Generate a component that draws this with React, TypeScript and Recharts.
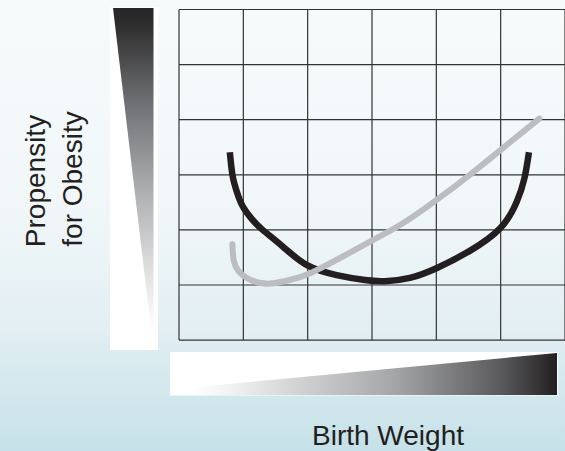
import React from 'react';
import { LineChart, Line, XAxis, YAxis, CartesianGrid } from 'recharts';

const gridTicks = [0, 1, 2, 3, 4, 5, 6];

// U-shaped (black) curve
const uShapeX = [0.79, 0.81, 0.84, 0.9, 0.99, 1.13, 1.3, 1.62, 1.99, 2.45, 2.89, 3.2, 3.59, 4.01, 4.52, 5.0, 5.25, 5.37, 5.44];
const uShapeY = [3.41, 3.18, 2.94, 2.69, 2.43, 2.2, 2.0, 1.69, 1.36, 1.18, 1.09, 1.07, 1.13, 1.31, 1.62, 2.04, 2.51, 2.94, 3.41];

// Rising (gray) curve
const risingX = [0.83, 0.85, 0.92, 1.05, 1.25, 1.46, 1.72, 2.03, 2.55, 3.07, 3.48, 4.0, 4.52, 5.03, 5.6];
const risingY = [1.74, 1.45, 1.26, 1.13, 1.04, 1.03, 1.09, 1.21, 1.52, 1.85, 2.12, 2.54, 3.0, 3.48, 4.02];

const xLabel = 'Birth Weight';
const yLabelLines = ['Propensity', 'for Obesity'];

const toPoints = (xs: number[], ys: number[]) => xs.map((x, i) => ({ x, y: ys[i] }));

const FONT = '"Liberation Sans", Arial, Helvetica, sans-serif';

export default function App() {
  const uShape = toPoints(uShapeX, uShapeY);
  const rising = toPoints(risingX, risingY);
  return (
    <div
      style={{
        position: 'absolute',
        left: 0,
        top: 0,
        width: 565,
        height: 451,
        overflow: 'hidden',
        background:
          'linear-gradient(to bottom, #f7fafb 0%, #f1f7f9 45%, #e3eff3 72%, #c6e1e9 100%)',
        fontFamily: FONT,
      }}
    >
      <svg width={565} height={451} style={{ position: 'absolute', left: 0, top: 0 }}>
        <defs>
          <linearGradient id="vgrad" x1="0" y1="0" x2="0" y2="1">
            <stop offset="0" stopColor="#262626" />
            <stop offset="0.05" stopColor="#2e2e2e" />
            <stop offset="0.27" stopColor="#6d6e71" />
            <stop offset="0.56" stopColor="#b3b4b6" />
            <stop offset="0.8" stopColor="#e6e6e6" />
            <stop offset="0.94" stopColor="#ffffff" />
          </linearGradient>
          <linearGradient id="hgrad" x1="0" y1="0" x2="1" y2="0">
            <stop offset="0.05" stopColor="#ffffff" />
            <stop offset="0.15" stopColor="#f3f3f3" />
            <stop offset="0.31" stopColor="#d6d6d7" />
            <stop offset="0.57" stopColor="#a7a8aa" />
            <stop offset="0.85" stopColor="#5c5c5e" />
            <stop offset="1" stopColor="#231f20" />
          </linearGradient>
        </defs>
        <rect x={110} y={7} width={48} height={343} fill="#ffffff" />
        <polygon points="113,8 153.5,8 153.5,350" fill="url(#vgrad)" />
        <rect x={170} y={352} width={388} height={43.5} fill="#ffffff" />
        <polygon points="170,389.5 557,353 557,395 170,395" fill="url(#hgrad)" />
        <text
          transform="translate(45,181) rotate(-90)"
          textAnchor="middle"
          fontSize={28}
          fill="#231f20"
          fontFamily={FONT}
        >
          {yLabelLines[0]}
        </text>
        <text
          transform="translate(81.5,179) rotate(-90)"
          textAnchor="middle"
          fontSize={28}
          fill="#231f20"
          fontFamily={FONT}
        >
          {yLabelLines[1]}
        </text>
        <text x={388} y={445} textAnchor="middle" fontSize={28} fill="#231f20" fontFamily={FONT}>
          {xLabel}
        </text>
      </svg>
      <div style={{ position: 'absolute', left: 0, top: 0 }}>
        <LineChart
          width={565}
          height={451}
          margin={{ top: 9.5, right: 0, bottom: 110.9, left: 179 }}
        >
          <CartesianGrid stroke="#333333" strokeWidth={1.2} />
          <XAxis type="number" dataKey="x" domain={[0, 6]} ticks={gridTicks} hide allowDataOverflow />
          <YAxis type="number" domain={[0, 6]} ticks={gridTicks} hide allowDataOverflow />
          <Line
            data={uShape}
            dataKey="y"
            type="natural"
            stroke="#231f20"
            strokeWidth={6.5}
            strokeLinecap="butt"
            dot={false}
            activeDot={false}
            isAnimationActive={false}
          />
          <Line
            data={rising}
            dataKey="y"
            type="natural"
            stroke="#bcbdc0"
            strokeWidth={6}
            strokeLinecap="round"
            dot={false}
            activeDot={false}
            isAnimationActive={false}
          />
        </LineChart>
      </div>
    </div>
  );
}
